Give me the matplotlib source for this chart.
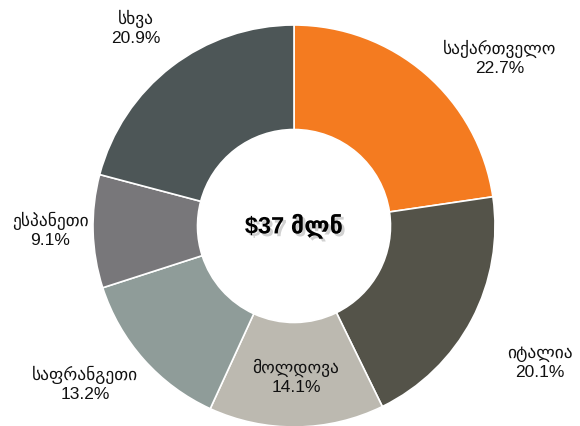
import matplotlib.pyplot as plt
import matplotlib.patheffects as pe

plt.rcParams['font.family'] = ['Liberation Sans', 'DejaVu Sans']

countries = ["საქართველო", "იტალია", "მოლდოვა", "საფრანგეთი", "ესპანეთი", "სხვა"]
shares = [22.7, 20.1, 14.1, 13.2, 9.1, 20.9]
colors = ["#F47B20", "#545349", "#BCB9B0", "#8F9C99", "#78777A", "#4D5657"]
center_label = "$37 მლნ"

# label spots in image pixels (x, y), chart centre at (294, 226), radius 201 px
label_px = [(500, 58), (540, 363), (296, 377), (85, 384), (50, 230), (136, 28)]

fig = plt.figure(figsize=(5.8, 4.26), dpi=100)
ax = fig.add_axes([0, 0, 1, 1])

R = 201.0
cx, cy = 294.0, 226.0

ax.pie(shares, colors=colors, startangle=90, counterclock=False, radius=1,
       wedgeprops=dict(width=0.52, edgecolor="white", linewidth=1.2))

for name, v, (px, py) in zip(countries, shares, label_px):
    ax.text((px - cx) / R, (cy - py) / R, f"{name}\n{v}%", ha="center", va="center",
            fontsize=12.5, color="#111111", linespacing=1.25)

ax.text(0, 0, center_label, ha="center", va="center", fontsize=17, fontweight="bold",
        color="black",
        path_effects=[pe.withSimplePatchShadow(offset=(2, -2), shadow_rgbFace="#999999", alpha=0.45)])

ax.set_xlim(-cx / R, (580 - cx) / R)
ax.set_ylim(-(426 - cy) / R, cy / R)
ax.set_aspect("equal")
ax.axis("off")

fig.savefig("out.png", dpi=100)
